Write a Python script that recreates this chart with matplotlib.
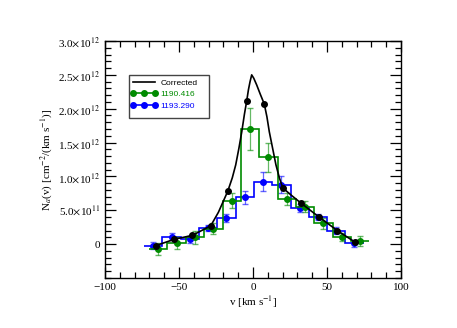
import numpy as np
import matplotlib
matplotlib.use('Agg')
import matplotlib.pyplot as plt
from matplotlib.lines import Line2D
from matplotlib.patches import Rectangle
from matplotlib.ticker import MultipleLocator, FixedLocator, FixedFormatter

plt.rcParams.update({'font.family': 'Liberation Serif', 'mathtext.fontset': 'stix',
                     'font.size': 7.5})

# ---- data (N in units of 1e12 cm^-2/(km/s)) ----
v_1190 = [-64.0, -51.6, -39.2, -26.8, -14.4, -2.0, 10.4, 22.8, 35.2, 47.6, 60.0, 72.4]
N_1190 = [-0.07, 0.02, 0.10, 0.23, 0.64, 1.70, 1.28, 0.67, 0.55, 0.31, 0.11, 0.05]
e_1190 = [0.09, 0.09, 0.10, 0.08, 0.11, 0.31, 0.21, 0.09, 0.08, 0.08, 0.06, 0.07]
step_1190 = 12.4

v_1193 = [-67.3, -55.0, -42.6, -30.3, -18.0, -5.6, 6.8, 19.1, 31.5, 43.8, 56.2, 68.5]
N_1193 = [-0.02, 0.11, 0.07, 0.24, 0.38, 0.69, 0.92, 0.88, 0.54, 0.40, 0.20, 0.01]
e_1193 = [0.05, 0.05, 0.05, 0.05, 0.06, 0.10, 0.14, 0.12, 0.06, 0.05, 0.05, 0.05]
step_1193 = 12.33

v_corr_pts = [-65.5, -53.4, -41.0, -28.6, -17.1, -4.3, 7.6, 20.1, 32.2, 44.6, 57.0, 68.9]
N_corr_pts = [-0.02, 0.07, 0.13, 0.27, 0.78, 2.11, 2.07, 0.83, 0.61, 0.40, 0.20, 0.03]

v_corr = [-65.5, -53.4, -41.0, -28.6, -23.4, -17.1, -14.0, -11.7, -9.5, -7.6, -5.8,
          -4.3, -3.1, -2.0, -0.9, 0.5, 2.5, 4.8, 7.6, 9.4, 11.0, 13.2, 15.5, 17.8,
          20.1, 26.0, 32.2, 44.6, 57.0, 68.9]
N_corr = [-0.02, 0.07, 0.13, 0.27, 0.47, 0.78, 0.98, 1.17, 1.42, 1.66, 1.92,
          2.11, 2.28, 2.40, 2.50, 2.45, 2.35, 2.22, 2.07, 1.88, 1.66, 1.42, 1.17, 0.98,
          0.83, 0.72, 0.61, 0.40, 0.20, 0.03]

GREEN = '#008b00'
BLUE = '#0000ff'
scale = 1e12
MS = 4

fig = plt.figure(figsize=(4.57, 3.28), dpi=100)
ax = fig.add_axes([0.2298, 0.1524, 0.6477, 0.7226])


def edges(c, w):
    c = np.asarray(c)
    return np.append(c - w / 2, c[-1] + w / 2)


# blue (1193.290)
ax.stairs(np.array(N_1193) * scale, edges(v_1193, step_1193), baseline=None,
          color=BLUE, lw=1.2, zorder=2)
ax.errorbar(v_1193, np.array(N_1193) * scale, yerr=np.array(e_1193) * scale,
            fmt='none', ecolor=BLUE, alpha=0.6, elinewidth=0.9, capsize=2, zorder=2)
ax.plot(v_1193, np.array(N_1193) * scale, 'o', color=BLUE, ms=MS, zorder=3)

# green (1190.416)
ax.stairs(np.array(N_1190) * scale, edges(v_1190, step_1190), baseline=None,
          color=GREEN, lw=1.2, zorder=4)
ax.errorbar(v_1190, np.array(N_1190) * scale, yerr=np.array(e_1190) * scale,
            fmt='none', ecolor=GREEN, alpha=0.6, elinewidth=0.9, capsize=2, zorder=4)
ax.plot(v_1190, np.array(N_1190) * scale, 'o', color=GREEN, ms=MS, zorder=5)

# corrected
ax.plot(v_corr, np.array(N_corr) * scale, '-', color='black', lw=1.2, zorder=6)
ax.plot(v_corr_pts, np.array(N_corr_pts) * scale, 'o', color='black', ms=MS, zorder=7)

ax.set_xlim(-100, 100)
ax.set_ylim(-0.5e12, 3.0e12)
ax.xaxis.set_major_locator(MultipleLocator(50))
ax.xaxis.set_minor_locator(MultipleLocator(10))
yt = [0, 0.5e12, 1.0e12, 1.5e12, 2.0e12, 2.5e12, 3.0e12]
ylab = ['0', r'5.0$\times$10$^{11}$', r'1.0$\times$10$^{12}$', r'1.5$\times$10$^{12}$',
        r'2.0$\times$10$^{12}$', r'2.5$\times$10$^{12}$', r'3.0$\times$10$^{12}$']
ax.yaxis.set_major_locator(FixedLocator(yt))
ax.yaxis.set_major_formatter(FixedFormatter(ylab))
ax.yaxis.set_minor_locator(MultipleLocator(1e11))
ax.tick_params(which='both', direction='in', top=True, right=True, width=0.9)
ax.tick_params(which='major', length=8, labelsize=8)
ax.tick_params(which='minor', length=4)
for s in ax.spines.values():
    s.set_linewidth(1.0)

ax.set_xlabel(r'v [km s$^{-1}$]', fontsize=8, labelpad=2)
ax.set_ylabel(r'N$_a$(v) [cm$^{-2}$/(km s$^{-1}$)]', fontsize=8, labelpad=3)

# legend
handles = [Line2D([], [], color='black', lw=1.2),
           Line2D([], [], color=GREEN, lw=1.2, marker='o', ms=MS),
           Line2D([], [], color=BLUE, lw=1.2, marker='o', ms=MS)]
labels = ['Corrected', '1190.416', '1193.290']
leg = ax.legend(handles, labels, loc='upper left', bbox_to_anchor=(0.086, 0.84),
                frameon=False, numpoints=3, handlelength=3.3, handletextpad=0.3,
                borderaxespad=0, borderpad=0, labelspacing=0.45,
                prop={'family': 'Liberation Sans', 'size': 6})
for txt, c in zip(leg.get_texts(), ['black', GREEN, BLUE]):
    txt.set_color(c)
ax.add_patch(Rectangle((0.082, 0.674), 0.27, 0.183, transform=ax.transAxes,
                       fill=False, ec='#444444', lw=1.0, zorder=8))

fig.savefig('out.png', dpi=100)
